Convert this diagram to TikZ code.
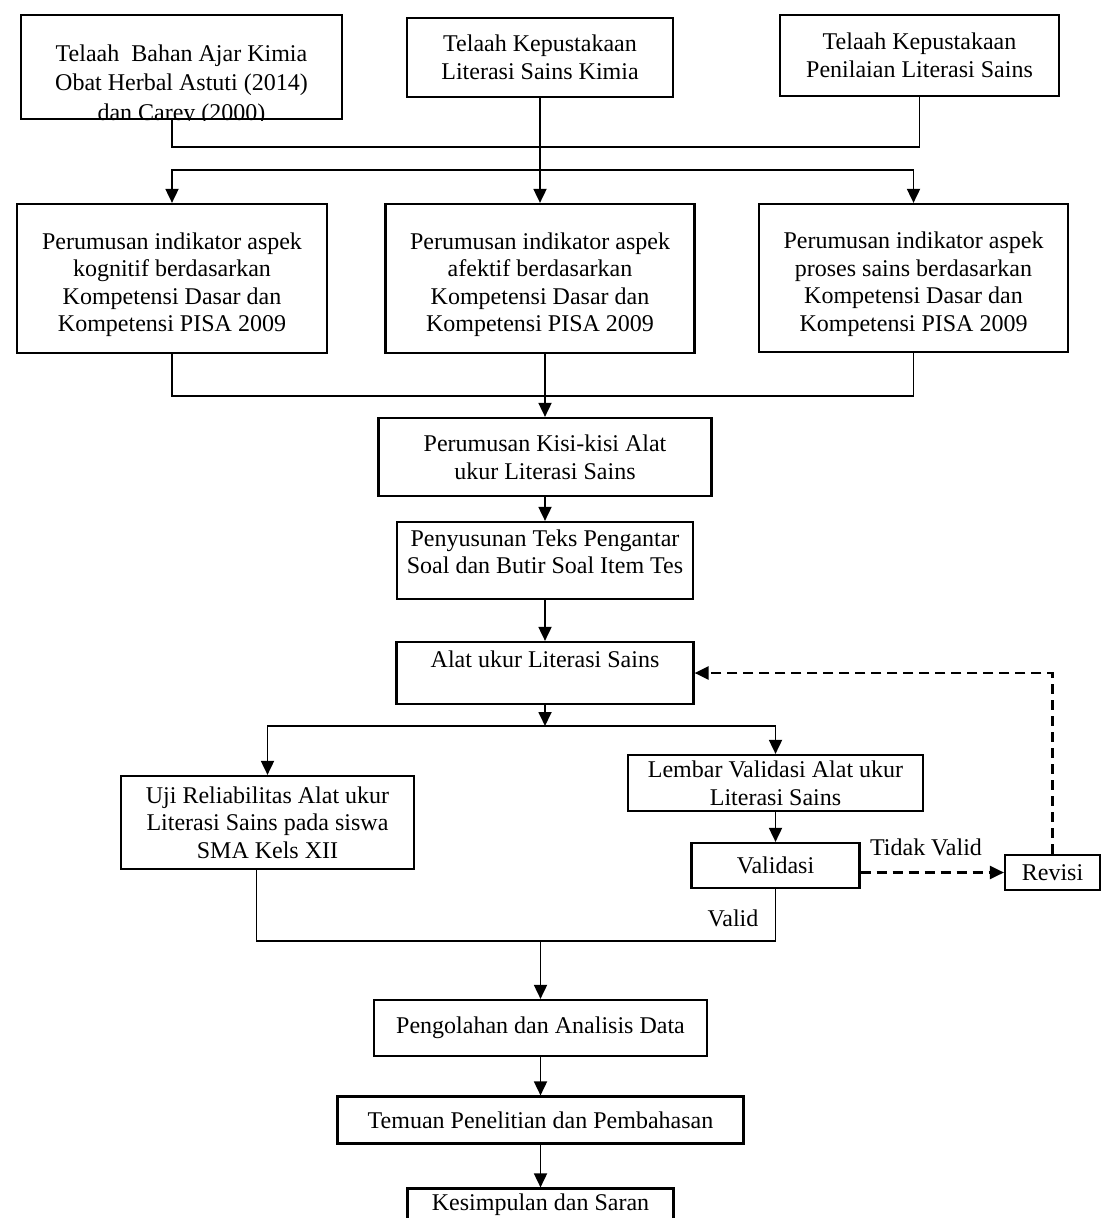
\documentclass[tikz,border=0pt]{standalone}
\usepackage{fontspec}
\setmainfont{Liberation Serif}
\usepackage{tikz}
\usetikzlibrary{shapes.geometric, arrows.meta}
\tikzstyle{stage} = [rectangle, draw=black, line width=1.1pt, align=center, inner sep=2pt, text centered]
\tikzstyle{link} = [line width=0.9pt]
\tikzstyle{arrow} = [line width=0.9pt, -{Triangle[length=7pt,width=6.5pt]}]
\tikzstyle{dasharrow} = [line width=1.1pt, dash pattern=on 5pt off 3pt, -{Triangle[length=7pt,width=6.5pt]}]
\tikzstyle{note} = [fill=white, inner sep=1pt]
\newcommand{\topgap}{\rule{0pt}{14.5pt}}

\begin{document}
\begin{tikzpicture}[x=1pt, y=-1pt, node distance=46pt, font=\fontsize{12}{13.8}\selectfont]
	\useasboundingbox (0,0) rectangle (550.5,609);
	\clip (0,0) rectangle (550.5,609);
	\node (A) [stage, minimum width=160.5pt, minimum height=52pt] at (90.75,33.5) {};
	\begin{scope}
		\clip (A.south west) rectangle (A.north east);
		\node (Ateks) [align=center, font=\fontsize{12}{14.8}\selectfont] at (90.75,42.5) {Telaah~ Bahan Ajar Kimia\\Obat Herbal Astuti (2014)\\dan Carey (2000)};
	\end{scope}
	\node (B) [stage, minimum width=133pt, minimum height=39.5pt] at (270,28.75) {Telaah Kepustakaan\\Literasi Sains Kimia};
	\node (C) [stage, minimum width=139.5pt, minimum height=40.5pt] at (459.75,27.75) {Telaah Kepustakaan\\Penilaian Literasi Sains};
	\coordinate (join1) at (0,73.5);
	\coordinate (split1) at (0,85);
	\node (D) [stage, minimum width=155pt, minimum height=74.5pt] at (86,139.25) {\topgap Perumusan indikator aspek\\kognitif berdasarkan\\Kompetensi Dasar dan\\Kompetensi PISA 2009};
	\node (E) [stage, minimum width=154.5pt, minimum height=74.5pt] at (270,139.25) {\topgap Perumusan indikator aspek\\afektif berdasarkan\\Kompetensi Dasar dan\\Kompetensi PISA 2009};
	\node (F) [stage, minimum width=154.5pt, minimum height=74pt] at (456.75,139) {\topgap Perumusan indikator aspek\\proses sains berdasarkan\\Kompetensi Dasar dan\\Kompetensi PISA 2009};
	\draw [link] (A.south -| D.north) |- (C.south |- join1) -- (C.south);
	\draw [arrow] (B) -- (E);
	\draw [arrow] (F.north |- split1) -| (D.north);
	\draw [arrow] (F.north |- split1) -- (F.north);
	\coordinate (join2) at (0,198);
	\node (G) [stage, minimum width=166.5pt, minimum height=39pt] at (272.5,228.5) {Perumusan Kisi-kisi Alat\\ukur Literasi Sains};
	\node (H) [stage, minimum width=148pt, minimum height=38.5pt, below of=G, yshift=-5.75pt] {Penyusunan Teks Pengantar\\Soal dan Butir Soal Item Tes\\[-5pt]\mbox{}};
	\node (I) [stage, minimum width=148.5pt, minimum height=31pt, below of=H, yshift=-10.25pt] {Alat ukur Literasi Sains\\\mbox{}};
	\draw [link] (D.south) |- (F.south |- join2) -- (F.south);
	\draw [arrow] (E.south -| G.north) -- (G.north);
	\draw [arrow] (G) -- (H);
	\draw [arrow] (H) -- (I);
	\coordinate (split2) at (0,363);
	\node (J) [stage, minimum width=146.5pt, minimum height=46.5pt] at (133.75,411.25) {Uji Reliabilitas Alat ukur\\Literasi Sains pada siswa\\SMA Kels XII};
	\node (N) [stage, minimum width=147.5pt, minimum height=28pt] at (387.75,391.5) {Lembar Validasi Alat ukur\\Literasi Sains};
	\node (O) [stage, minimum width=84pt, minimum height=22.5pt, below of=N, yshift=4.75pt] {Validasi};
	\node (P) [stage, minimum width=47.5pt, minimum height=17.5pt] at (526.25,436.25) {Revisi};
	\node (tidak) [note] at (463,423.5) {Tidak Valid};
	\draw [arrow] (I.south) -- (I.south |- split2);
	\draw [arrow] (N.north |- split2) -| (J.north);
	\draw [arrow] (N.north |- split2) -- (N.north);
	\draw [arrow] (N) -- (O);
	\draw [dasharrow] (O.east |- P.west) -- (P.west);
	\draw [dasharrow] (P.north) |- (I.east);
	\coordinate (join3) at (0,470.5);
	\node (valid) [note] at (366.5,459) {Valid};
	\node (K) [stage, minimum width=166.5pt, minimum height=28pt] at (270.25,514) {Pengolahan dan Analisis Data};
	\node (L) [stage, minimum width=203pt, minimum height=23.5pt, below of=K] {Temuan Penelitian dan Pembahasan};
	\node (M) [stage, minimum width=133pt, minimum height=16.5pt, below of=L, yshift=3.5pt] {Kesimpulan dan Saran};
	\draw [link] ([xshift=-5.5pt]J.south) |- (O.south |- join3) -- (O.south);
	\draw [arrow] (K.north |- join3) -- (K.north);
	\draw [arrow] (K) -- (L);
	\draw [arrow] (L) -- (M);
\end{tikzpicture}
\end{document}
